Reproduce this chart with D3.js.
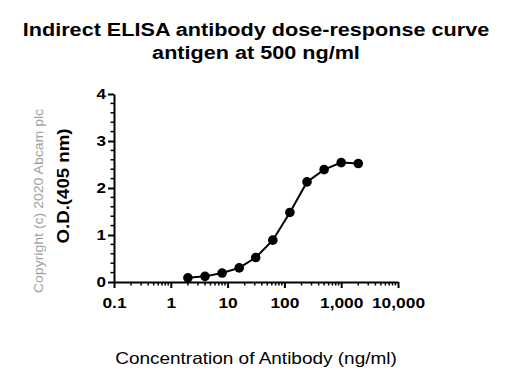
<!DOCTYPE html>
<html><head><meta charset="utf-8">
<script src="https://cdn.jsdelivr.net/npm/d3@7"></script>
<style>body{margin:0;background:#fff}svg{display:block}text{font-family:Arial,"Liberation Sans",sans-serif}</style>
</head><body><svg id="c" width="512" height="385"></svg>
<script>
const concentrations = [2, 4, 8, 16, 31.25, 62.5, 125, 250, 500, 1000, 2000];
const odValues = [0.09, 0.12, 0.19, 0.30, 0.52, 0.89, 1.48, 2.13, 2.39, 2.54, 2.52];
const xTicks = [0.1, 1, 10, 100, 1000, 10000];
const xTickLabels = ["0.1", "1", "10", "100", "1,000", "10,000"];
const yTicks = [0, 1, 2, 3, 4];
const titleLines = ["Indirect ELISA antibody dose-response curve", "antigen at 500 ng/ml"];

const svg = d3.select("#c");
const x = d3.scaleLog().domain([0.1, 10000]).range([114, 398]);
const y = d3.scaleLinear().domain([0, 4]).range([282, 94]);

function stretch(sel, f) {
  sel.each(function() {
    const w = this.getComputedTextLength();
    d3.select(this).attr("textLength", w * f).attr("lengthAdjust", "spacingAndGlyphs");
  });
}

// title
svg.append("g").selectAll("text").data(titleLines).join("text")
  .attr("x", 256).attr("y", (d, i) => 35.7 + i * 23.5)
  .attr("text-anchor", "middle").attr("font-size", 17.5).attr("font-weight", "bold").text(d => d)
  .call(stretch, 1.235);

// minor ticks
const xMinor = [];
for (let e = -1; e < 4; e++) for (let m = 2; m <= 9; m++) xMinor.push(m * Math.pow(10, e));
const yMinor = d3.range(0, 4.01, 0.2).filter(v => Math.abs(v - Math.round(v)) > 1e-6);

const xAxis = svg.append("g").attr("transform", "translate(0,282)")
  .call(d3.axisBottom(x).tickValues(xTicks).tickFormat((d, i) => xTickLabels[i]).tickSize(6).tickSizeOuter(0));
xAxis.select(".domain").attr("stroke-width", 2);
xAxis.selectAll(".tick line").attr("stroke-width", 2);
xAxis.selectAll(".tick text").attr("font-size", 15.5).attr("font-weight", "bold").attr("dy", null).attr("y", 26).attr("fill", "#000")
  .call(stretch, 1.12);
svg.append("g").selectAll("line").data(xMinor).join("line")
  .attr("x1", d => x(d)).attr("x2", d => x(d)).attr("y1", 282).attr("y2", 285.5)
  .attr("stroke", "#000").attr("stroke-width", 1.5);

const yAxis = svg.append("g").attr("transform", "translate(114,0)")
  .call(d3.axisLeft(y).tickValues(yTicks).tickFormat(d3.format("d")).tickSize(6).tickSizeOuter(0));
yAxis.select(".domain").attr("stroke-width", 2);
yAxis.selectAll(".tick line").attr("stroke-width", 2);
yAxis.selectAll(".tick text").attr("font-size", 15.5).attr("font-weight", "bold").attr("x", -8).attr("fill", "#000")
  .call(stretch, 1.1);
svg.append("g").selectAll("line").data(yMinor).join("line")
  .attr("x1", 110.5).attr("x2", 114).attr("y1", d => y(d)).attr("y2", d => y(d))
  .attr("stroke", "#000").attr("stroke-width", 1.5);

// data line & points
const pts = concentrations.map((c, i) => [c, odValues[i]]);
svg.append("path").datum(pts)
  .attr("d", d3.line().x(d => x(d[0])).y(d => y(d[1])))
  .attr("fill", "none").attr("stroke", "#000").attr("stroke-width", 2);
svg.append("g").selectAll("circle").data(pts).join("circle")
  .attr("cx", d => x(d[0])).attr("cy", d => y(d[1])).attr("r", 4.8).attr("fill", "#000");

// labels
svg.append("text").attr("x", 256).attr("y", 364).attr("text-anchor", "middle")
  .attr("font-size", 16.5).text("Concentration of Antibody (ng/ml)").call(stretch, 1.15);
svg.append("text").attr("transform", "translate(69,186) rotate(-90)").attr("text-anchor", "middle")
  .attr("font-size", 16.5).attr("font-weight", "bold").text("O.D.(405 nm)").call(stretch, 1.13);
svg.append("text").attr("transform", "translate(43,201) rotate(-90)").attr("text-anchor", "middle")
  .attr("font-size", 13).attr("fill", "#a0a0a0").text("Copyright (c) 2020 Abcam plc").call(stretch, 1.08);
</script></body></html>
